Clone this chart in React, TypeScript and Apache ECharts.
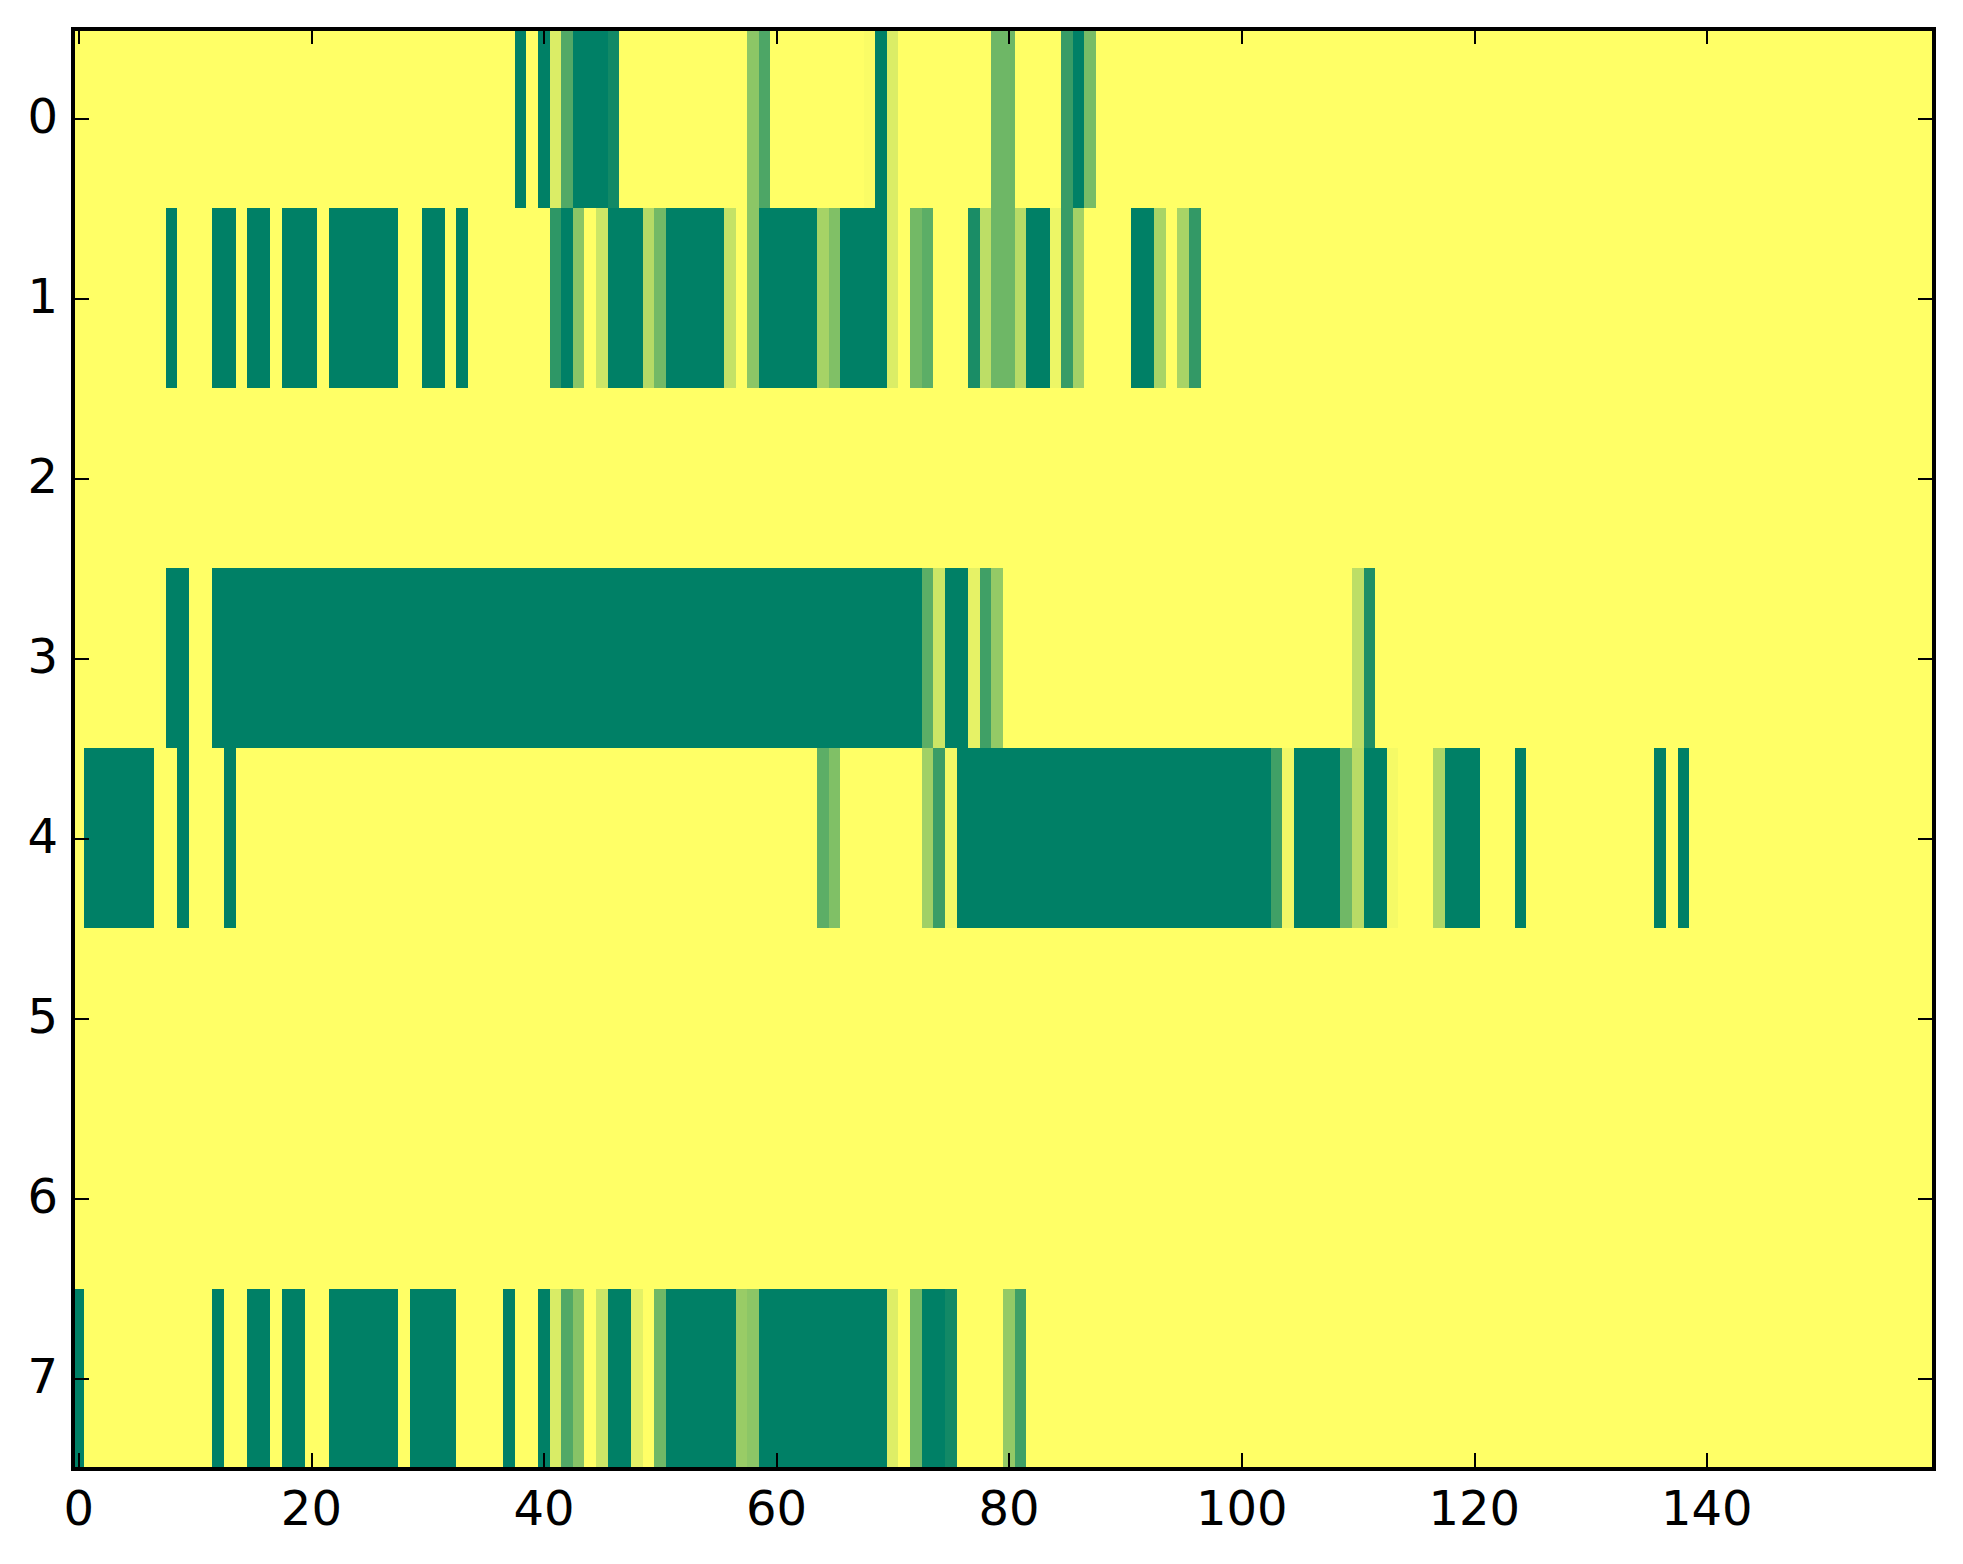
import React, { useEffect, useRef } from "react";
import * as echarts from "echarts";

const xCategories: string[] = Array.from({ length: 160 }, (_, i) => String(i));
const yCategories: string[] = ["0", "1", "2", "3", "4", "5", "6", "7"];
const xTickValues: number[] = [0, 20, 40, 60, 80, 100, 120, 140];

// Each run: [first column, last column, value]
type Run = [number, number, number];
const row0: Run[] = [
  [38, 38, 1], [40, 40, 1], [41, 41, 0.14], [42, 42, 0.68], [43, 45, 1], [46, 46, 0.93],
  [58, 58, 0.45], [59, 59, 0.7], [68, 68, 0.02], [69, 69, 1], [70, 70, 0.14],
  [79, 80, 0.57], [85, 85, 0.78], [86, 86, 1], [87, 87, 0.53],
];
const row1: Run[] = [
  [8, 8, 1], [12, 13, 1], [15, 16, 1], [18, 20, 1], [22, 27, 1], [30, 31, 1], [33, 33, 1],
  [41, 41, 0.82], [42, 42, 1], [43, 43, 0.46], [45, 45, 0.2], [46, 48, 1], [49, 49, 0.29],
  [50, 50, 0.55], [51, 55, 1], [56, 56, 0.23], [58, 58, 0.45], [59, 63, 1], [64, 64, 0.35],
  [65, 65, 0.5], [66, 69, 1], [70, 70, 0.14], [72, 72, 0.55], [73, 73, 0.64], [77, 77, 0.9],
  [78, 78, 0.26], [79, 80, 0.57], [81, 81, 0.28], [82, 83, 1], [84, 84, 0.07], [85, 85, 0.78],
  [86, 86, 0.36], [91, 92, 1], [93, 93, 0.34], [95, 95, 0.34], [96, 96, 0.8],
];
const row2: Run[] = [];
const row3: Run[] = [
  [8, 9, 1], [12, 72, 1], [73, 73, 0.64], [74, 74, 0.2], [75, 76, 1], [77, 77, 0.1],
  [78, 78, 0.75], [79, 79, 0.42], [110, 110, 0.26], [111, 111, 0.88],
];
const row4: Run[] = [
  [1, 6, 1], [9, 9, 1], [13, 13, 1], [64, 64, 0.64], [65, 65, 0.5], [73, 73, 0.37],
  [74, 74, 0.77], [75, 75, 0.05], [76, 102, 1], [103, 103, 0.75], [104, 104, 0.06],
  [105, 108, 1], [109, 109, 0.56], [110, 110, 0.28], [111, 112, 1], [113, 113, 0.04],
  [117, 117, 0.32], [118, 120, 1], [124, 124, 1], [136, 136, 1], [138, 138, 1],
];
const row5: Run[] = [];
const row6: Run[] = [];
const row7: Run[] = [
  [0, 0, 1], [12, 12, 1], [15, 16, 1], [18, 19, 1], [22, 27, 1], [29, 32, 1], [37, 37, 1],
  [40, 40, 1], [41, 41, 0.15], [42, 42, 0.68], [43, 43, 0.47], [45, 45, 0.2], [46, 47, 1],
  [48, 48, 0.11], [50, 50, 0.56], [51, 56, 1], [57, 57, 0.4], [58, 58, 0.45], [59, 69, 1],
  [70, 70, 0.13], [72, 72, 0.55], [73, 74, 1], [75, 75, 0.93], [80, 80, 0.42], [81, 81, 0.75],
];
const rows: Run[][] = [row0, row1, row2, row3, row4, row5, row6, row7];

function buildCells(): [number, number, number][] {
  const cells: [number, number, number][] = [];
  rows.forEach((runs, y) => {
    const line = new Array(xCategories.length).fill(0);
    runs.forEach(([a, b, v]) => {
      for (let i = a; i <= b; i++) line[i] = v;
    });
    line.forEach((v, x) => cells.push([x, y, v]));
  });
  return cells;
}

const FONT = "DejaVu Sans";
const isXTick = (i: number) => xTickValues.includes(i);

const spine = { show: true, onZero: false, lineStyle: { color: "#000", width: 3.6, cap: "square" } };

export default function App() {
  const ref = useRef<HTMLDivElement>(null);
  useEffect(() => {
    document.body.style.margin = "0";
    document.body.style.background = "#fff";
    const chart = echarts.init(ref.current!, undefined, { renderer: "svg" });
    const tick = { show: true, inside: true, length: 16, alignWithLabel: true, lineStyle: { color: "#000", width: 1.7 } };
    chart.setOption({
      animation: false,
      backgroundColor: "#fff",
      grid: { left: 73, top: 28.4, width: 1860.6, height: 1440.4, show: true, backgroundColor: "#ffff66", borderWidth: 0 },
      visualMap: {
        show: false,
        type: "continuous",
        min: 0,
        max: 1,
        dimension: 2,
        seriesIndex: 0,
        inRange: { color: ["#ffff66", "#008066"] },
      },
      xAxis: [
        {
          type: "category",
          data: xCategories,
          position: "bottom",
          z: 10,
          axisLine: spine,
          axisTick: { ...tick, interval: (i: number) => isXTick(i) },
          axisLabel: {
            interval: (i: number) => isXTick(i),
            fontSize: 48,
            fontFamily: FONT,
            color: "#000",
            margin: 15,
          },
          splitLine: { show: false },
          splitArea: { show: false },
        },
        {
          type: "category",
          data: xCategories,
          position: "top",
          z: 10,
          axisLine: spine,
          axisTick: { ...tick, interval: (i: number) => isXTick(i) },
          axisLabel: { show: false },
          splitLine: { show: false },
          splitArea: { show: false },
        },
      ],
      yAxis: [
        {
          type: "category",
          data: yCategories,
          inverse: true,
          position: "left",
          z: 10,
          axisLine: spine,
          axisTick: { ...tick, interval: 0 },
          axisLabel: {
            interval: 0,
            color: "#000",
            margin: 15,
            formatter: "{n|{value}}",
            rich: { n: { fontSize: 48, fontFamily: FONT, color: "#000", padding: [0, 0, 5, 0] } },
          },
          splitLine: { show: false },
          splitArea: { show: false },
        },
        {
          type: "category",
          data: yCategories,
          inverse: true,
          position: "right",
          z: 10,
          axisLine: spine,
          axisTick: { ...tick, interval: 0 },
          axisLabel: { show: false },
          splitLine: { show: false },
          splitArea: { show: false },
        },
      ],
      series: [
        {
          type: "heatmap",
          xAxisIndex: 0,
          yAxisIndex: 0,
          data: buildCells(),
          progressive: 0,
          itemStyle: { borderWidth: 0 },
          emphasis: { disabled: true },
        },
      ],
    });
    return () => chart.dispose();
  }, []);
  return (
    <>
      <style>{"svg path, svg rect { shape-rendering: crispEdges; }"}</style>
      <div ref={ref} style={{ position: "absolute", left: 0, top: 0, width: 1963, height: 1564 }} />
    </>
  );
}
